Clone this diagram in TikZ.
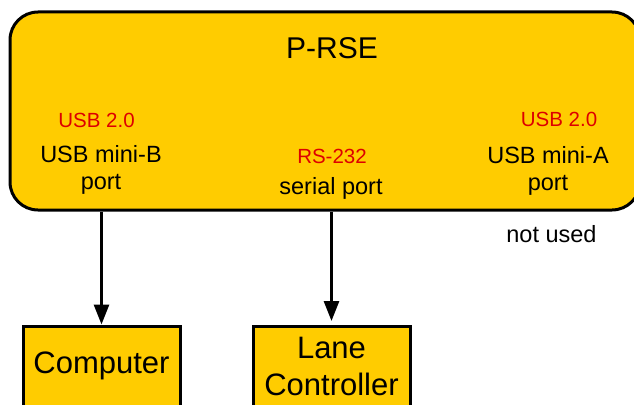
\documentclass[tikz,border=0pt]{standalone}
\usepackage{fontspec}
\setmainfont{Liberation Sans}
\usepackage{tikz}
\usetikzlibrary{arrows.meta, positioning}

\definecolor{boxyellow}{HTML}{FFCC00}
\definecolor{stdred}{HTML}{DD0000}

\begin{document}
\begin{tikzpicture}[
        x=1pt, y=-1pt,
        >={Triangle[length=20pt, width=15pt]},
        unit/.style={rectangle, rounded corners=28pt, draw, line width=3pt, fill=boxyellow, minimum width=630pt, minimum height=198pt},
        device/.style={rectangle, draw, line width=3pt, fill=boxyellow, minimum width=157pt, minimum height=124pt},
        title/.style={inner sep=0pt, font=\fontsize{30}{34}\selectfont},
        port/.style={inner sep=0pt, align=center, font=\fontsize{23.5}{27}\selectfont},
        std/.style={inner sep=0pt, text=stdred, font=\fontsize{20.5}{22}\selectfont},
        big/.style={inner sep=0pt, align=center, font=\fontsize{31}{37}\selectfont},
        link/.style={->, line width=3pt}
    ]

    \useasboundingbox (0,0) rectangle (634,404);
    \clip (0,0) rectangle (634,404);

    % main unit
    \node (prse) [unit] at (325,111) {};
    \node (name) [title, anchor=base] at (332,59) {P-RSE};

    % ports
    \node (miniB) [port, anchor=north] at (101,145) {USB mini-B\\port};
    \node (serial) [port, anchor=base] at (331,194) {serial port};
    \node (miniA) [port, anchor=north] at (548,146) {USB mini-A\\port};
    \node (stdB) [std, anchor=base] at (96.5,127) {USB 2.0};
    \node (stdS) [std, anchor=base] at (332,163) {RS-232};
    \node (stdA) [std, anchor=base] at (559,126) {USB 2.0};
    \node (unused) [port, anchor=base] at (551.5,242) {not used};

    % devices
    \node (comp) [device] at (101.5,388) {};
    \node (lane) [device] at (331.5,388.5) {};
    \node (compname) [big, below=27pt of comp.north] {Computer};
    \node (lanename) [big, below=12pt of lane.north] {Lane\\Controller};

    \draw [link] (prse.south -| comp.north) -- (comp.north);
    \draw [link, shorten >=4pt] (prse.south -| lane.north) -- (lane.north);

\end{tikzpicture}
\end{document}
